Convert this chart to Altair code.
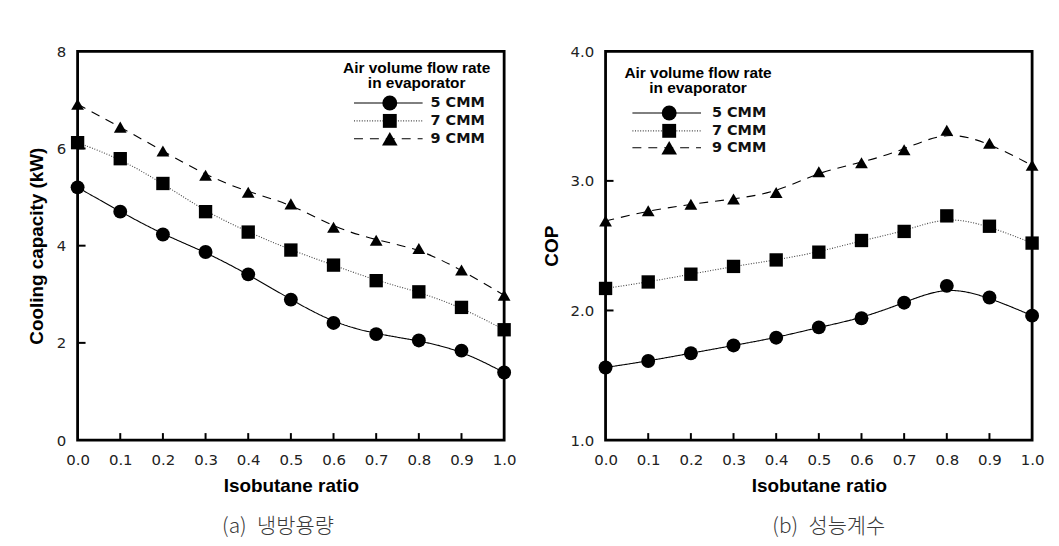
import altair as alt
import pandas as pd

ratio = [0.0, 0.1, 0.2, 0.3, 0.4, 0.5, 0.6, 0.7, 0.8, 0.9, 1.0]
series = ["5 CMM", "7 CMM", "9 CMM"]

cap_5 = [5.20, 4.70, 4.23, 3.87, 3.41, 2.89, 2.41, 2.18, 2.05, 1.84, 1.39]
cap_7 = [6.12, 5.79, 5.28, 4.70, 4.28, 3.91, 3.60, 3.28, 3.05, 2.73, 2.27]
cap_9 = [6.91, 6.44, 5.95, 5.45, 5.10, 4.86, 4.38, 4.11, 3.94, 3.50, 2.98]

cop_5 = [1.56, 1.61, 1.67, 1.73, 1.79, 1.87, 1.94, 2.06, 2.19, 2.10, 1.96]
cop_7 = [2.17, 2.22, 2.28, 2.34, 2.39, 2.45, 2.54, 2.61, 2.73, 2.65, 2.52]
cop_9 = [2.69, 2.77, 2.82, 2.86, 2.91, 3.07, 3.14, 3.24, 3.39, 3.29, 3.12]

x_ticks = [0.1, 0.2, 0.3, 0.4, 0.5, 0.6, 0.7, 0.8, 0.9]
cap_ticks = [2, 4, 6]
cop_ticks = [2.0, 3.0]

legend_title = ["Air volume flow rate", "in evaporator"]
captions = ["(a)\u2002냉방용량", "(b)\u2002성능계수"]

W, H = 429, 391

dash_range = [[1, 0], [1, 1.6], [9, 7]]
color_range = ["black", "#444444", "black"]
shape_range = ["circle", "square", "triangle-up"]
size_range = [195, 165, 215]


def long_df(a, b, c):
    rows = []
    for name, vals in zip(series, [a, b, c]):
        for xv, yv in zip(ratio, vals):
            rows.append({"x": xv, "y": yv, "series": name})
    return pd.DataFrame(rows)


def panel(df, ydom, yvals, yfmt, ytitle, yticks, caption, cap_dx, leg, y_title_pad):
    xs = alt.X("x:Q", scale=alt.Scale(domain=[0, 1], nice=False),
               axis=alt.Axis(values=ratio, format=".1f", title="Isobutane ratio",
                             labelPadding=13, titlePadding=9, labelFlush=False,
                             labelOverlap=False))
    ys = alt.Y("y:Q", scale=alt.Scale(domain=ydom, nice=False),
               axis=alt.Axis(values=yvals, format=yfmt, title=ytitle,
                             labelPadding=12, titlePadding=y_title_pad, labelFlush=False,
                             labelOverlap=False))
    base = alt.Chart(df)
    lines = base.mark_line(interpolate="basis", strokeWidth=1.1).encode(
        x=xs, y=ys,
        strokeDash=alt.StrokeDash("series:N", scale=alt.Scale(domain=series, range=dash_range), legend=None),
        color=alt.Color("series:N", scale=alt.Scale(domain=series, range=color_range), legend=None),
    )
    pts = base.mark_point(filled=True, opacity=1, color="black").encode(
        x="x:Q", y="y:Q",
        shape=alt.Shape("series:N", scale=alt.Scale(domain=series, range=shape_range), legend=None),
        size=alt.Size("series:N", scale=alt.Scale(domain=series, range=size_range), legend=None),
    )
    xt = alt.Chart(pd.DataFrame({"t": x_ticks})).mark_rule(color="black", strokeWidth=2).encode(
        x="t:Q", y=alt.value(H), y2=alt.value(H - 7))
    yt = alt.Chart(pd.DataFrame({"t": yticks})).mark_rule(color="black", strokeWidth=2).encode(
        y="t:Q", x=alt.value(0), x2=alt.value(8))

    lx0, lx1, mx, tx, ty1, ty2, rows_y, tcx = leg
    ltitles = []
    for t, yy in zip(legend_title, [ty1, ty2]):
        ltitles.append(alt.Chart(pd.DataFrame({"t": [t]})).mark_text(
            font="Liberation Sans", fontSize=15.5, fontWeight="bold", color="black",
            align="center", baseline="middle").encode(text="t:N", x=alt.value(tcx), y=alt.value(yy)))
    litems = []
    for i, name in enumerate(series):
        d = pd.DataFrame({"series": [name]})
        ry = rows_y[i]
        litems.append(alt.Chart(d).mark_rule(strokeWidth=1.1, strokeDash=dash_range[i],
                                             color=color_range[i]).encode(
            x=alt.value(lx0), x2=alt.value(lx1), y=alt.value(ry)))
        litems.append(alt.Chart(d).mark_point(filled=True, opacity=1, color="black",
                                              shape=shape_range[i], size=size_range[i] + 30).encode(
            x=alt.value(mx), y=alt.value(ry)))
        litems.append(alt.Chart(d).mark_text(font="DejaVu Sans", fontSize=14.5, fontWeight="bold",
                                             color="#111111", align="left", baseline="middle").encode(
            text="series:N", x=alt.value(tx), y=alt.value(ry)))

    return alt.layer(lines, pts, xt, yt, *ltitles, *litems).properties(
        width=W, height=H,
        title=alt.TitleParams(text=caption, orient="bottom", anchor="middle", frame="group",
                              font="Noto Sans CJK KR", fontSize=21, fontWeight=300,
                              color="#3a3a3a", offset=20, dx=cap_dx),
    )


left = panel(long_df(cap_5, cap_7, cap_9), [0, 8], [0, 2, 4, 6, 8], "d",
             "Cooling capacity (kW)", cap_ticks, captions[0], -13,
             (278, 347, 314, 355, 17, 32, [52, 70, 88], 341), 10)
right = panel(long_df(cop_5, cop_7, cop_9), [1, 4], [1.0, 2.0, 3.0, 4.0], ".1f",
              "COP", cop_ticks, captions[1], 10,
              (27, 96, 64, 107, 22, 37, [62, 80, 97], 93), 8)

chart = alt.hconcat(left, right, spacing=102, bounds="flush").properties(
    padding={"left": 18, "top": 33, "right": 5, "bottom": 5},
    background="white",
).configure_view(stroke="black", strokeWidth=2.8).configure_axis(
    domain=False, ticks=False, grid=False,
    labelFont="DejaVu Sans", labelFontSize=15, labelColor="#222222",
    titleFont="Liberation Sans", titleFontSize=19, titleFontWeight="bold", titleColor="black",
)

chart.save("out.html", embed_options={"renderer": "svg", "actions": False})
